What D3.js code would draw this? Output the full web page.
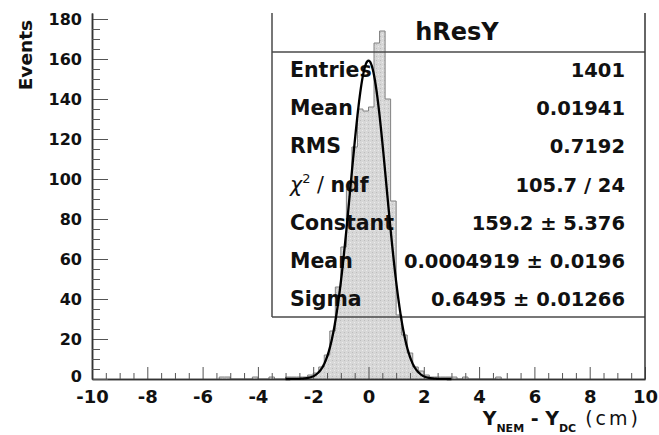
<!DOCTYPE html>
<html>
<head>
<meta charset="utf-8">
<script src="https://cdn.jsdelivr.net/npm/d3@7"></script>
<style>
  html, body { margin: 0; padding: 0; background: #fff; }
  svg { display: block; }
  text { font-family: "DejaVu Sans", sans-serif; font-weight: bold; fill: #111; }
</style>
</head>
<body>
<svg id="chart" width="659" height="435"></svg>
<script>
// Histogram hResY: bins of 0.2 cm, only the non-empty ones are listed
const binWidth = 0.2;
const binLowEdges = [
  -5.4, -5.2, -4.2, -3.6, -3.0,
  -2.8, -2.6, -2.4, -2.2, -2.0, -1.8, -1.6, -1.4, -1.2, -1.0,
  -0.8, -0.6, -0.4, -0.2, 0.0, 0.2, 0.4, 0.6, 0.8, 1.0,
  1.2, 1.4, 1.6, 1.8, 2.0, 2.2, 2.4, 2.6, 2.8, 3.0, 3.4, 4.6
];
const binCounts = [
  1, 1, 1, 1, 1,
  1, 1, 1, 2, 3, 6, 12, 24, 46, 66,
  95, 116, 135, 134, 136, 168, 174, 140, 89, 32,
  22, 13, 6, 4, 2, 1, 1, 1, 1, 1, 1, 1
];

// Gaussian fit result and statistics box content
const fitConstant = 159.2;
const fitMean = 0.0004919;
const fitSigma = 0.6495;
const fitRange = [-3.0, 3.0];
const statsTitle = "hResY";
const statsLabels = ["Entries", "Mean", "RMS", "χ² / ndf", "Constant", "Mean", "Sigma"];
const statsValues = ["1401", "0.01941", "0.7192", "105.7 / 24", "159.2 ± 5.376", "0.0004919 ± 0.0196", "0.6495 ± 0.01266"];

// Axis ticks
const xMajorTicks = [-10, -8, -6, -4, -2, 0, 2, 4, 6, 8, 10];
const yMajorTicks = [0, 20, 40, 60, 80, 100, 120, 140, 160, 180];
const xRange = [-10, 10];
const yMax = 183;

const svg = d3.select("#chart");
const plotL = 92, plotR = 645, plotT = 13, plotB = 379;

const x = d3.scaleLinear().domain(xRange).range([plotL, plotR]);
const y = d3.scaleLinear().domain([0, yMax]).range([plotB, plotT]);

// Light stippled fill for the histogram
const defs = svg.append("defs");
const pat = defs.append("pattern").attr("id", "stipple")
  .attr("width", 4).attr("height", 4).attr("patternUnits", "userSpaceOnUse");
pat.append("rect").attr("width", 4).attr("height", 4).attr("fill", "#d7d7d7");
pat.append("rect").attr("x", 0).attr("y", 0).attr("width", 1).attr("height", 1).attr("fill", "#bdbdbd");
pat.append("rect").attr("x", 2).attr("y", 2).attr("width", 1).attr("height", 1).attr("fill", "#ececec");

// Histogram contour: one closed step path along the bin tops
const bins = binLowEdges.map((lo, i) => ({ lo: lo, hi: lo + binWidth, n: binCounts[i] }));
const contour = [];
bins.forEach((b, i) => {
  const prev = bins[i - 1];
  if (!prev || Math.abs(prev.hi - b.lo) > 1e-9) {
    if (prev) contour.push([x(prev.hi), y(0)]);
    contour.push([x(b.lo), y(0)]);
  }
  contour.push([x(b.lo), y(b.n)]);
  contour.push([x(b.hi), y(b.n)]);
});
contour.push([x(bins[bins.length - 1].hi), y(0)]);

svg.append("path").attr("d", d3.line()(contour) + "Z")
  .attr("fill", "url(#stipple)").attr("stroke", "none");
svg.append("path").attr("d", d3.line()(contour))
  .attr("fill", "none").attr("stroke", "#808080").attr("stroke-width", 1);

// Statistics box
const boxL = 272, boxR = 645, boxT = 13, boxB = 317, sepY = 52;
svg.append("text").attr("x", 457).attr("y", 40)
  .attr("text-anchor", "middle").style("font-size", "24px").text(statsTitle);

const rowY = d3.scaleLinear().domain([0, statsLabels.length - 1]).range([77, 306]);
statsLabels.forEach((lab, i) => {
  const t = svg.append("text").attr("x", 290).attr("y", rowY(i)).style("font-size", "20.5px");
  if (lab.startsWith("χ")) {
    t.append("tspan").style("font-style", "italic").style("font-weight", "normal").text("χ");
    t.append("tspan").attr("dy", -9).style("font-size", "13px").style("font-weight", "normal").text("2");
    t.append("tspan").attr("dy", 9).style("font-weight", "normal").text(" / ");
    t.append("tspan").text("ndf");
  } else {
    t.text(lab);
  }
});
statsValues.forEach((v, i) => {
  svg.append("text").attr("x", 625).attr("y", rowY(i))
    .attr("text-anchor", "end").style("font-size", "19.5px").text(v);
});

const boxStroke = "#4a4a4a";
[[boxL, boxT, boxL, boxB], [boxL, boxB, boxR, boxB], [boxL, sepY, boxR, sepY]].forEach(s => {
  svg.append("line").attr("x1", s[0]).attr("y1", s[1]).attr("x2", s[2]).attr("y2", s[3])
    .attr("stroke", boxStroke).attr("stroke-width", 1.5);
});

// Axes with inward ticks
const xAxis = svg.append("g").attr("transform", `translate(0,${plotB})`)
  .call(d3.axisBottom(x).tickValues(xMajorTicks).tickSize(-12).tickSizeOuter(0).tickPadding(11)
    .tickFormat(d => String(d)));
const xMinor = d3.range(xRange[0], xRange[1] + 0.001, 0.5).filter(v => Math.abs(v % 2) > 1e-9);
svg.append("g").attr("transform", `translate(0,${plotB})`)
  .call(d3.axisBottom(x).tickValues(xMinor).tickSize(-6).tickSizeOuter(0).tickFormat(""));
const yAxis = svg.append("g").attr("transform", `translate(${plotL},0)`)
  .call(d3.axisLeft(y).tickValues(yMajorTicks).tickSize(-16).tickSizeOuter(0).tickPadding(10)
    .tickFormat(d => String(d)));
const yMinor = d3.range(0, yMax, 5).filter(v => v % 20 !== 0);
svg.append("g").attr("transform", `translate(${plotL},0)`)
  .call(d3.axisLeft(y).tickValues(yMinor).tickSize(-8).tickSizeOuter(0).tickFormat(""));

svg.selectAll(".domain").attr("stroke", "#333").attr("stroke-width", 1.5);
svg.selectAll(".tick line").attr("stroke", "#555");
xAxis.selectAll("text").style("font-size", "18px").attr("fill", "#111");
yAxis.selectAll("text").style("font-size", "16px").attr("fill", "#111");
// the zero label sits just above the first x label
yAxis.selectAll(".tick").filter(d => d === 0).select("text").attr("dy", "0.15em");

// Right frame edge
svg.append("line").attr("x1", plotR).attr("x2", plotR).attr("y1", plotT).attr("y2", plotB)
  .attr("stroke", "#333").attr("stroke-width", 1.5);

// Gaussian fit curve
const gauss = v => fitConstant * Math.exp(-0.5 * Math.pow((v - fitMean) / fitSigma, 2));
const curveX = d3.range(fitRange[0], fitRange[1] + 0.0001, 0.02);
svg.append("path")
  .attr("d", d3.line().x(v => x(v)).y(v => y(gauss(v)))(curveX))
  .attr("fill", "none").attr("stroke", "#000").attr("stroke-width", 2.3);

// Axis titles
svg.append("text").attr("transform", "translate(32,20) rotate(-90)")
  .attr("text-anchor", "end").style("font-size", "18.5px").text("Events");

const xt = svg.append("text").attr("x", 641).attr("y", 425).attr("text-anchor", "end")
  .style("font-size", "19px");
xt.append("tspan").text("Y");
xt.append("tspan").attr("dy", 7).style("font-size", "11px").text("NEM");
xt.append("tspan").attr("dy", -7).text(" - Y");
xt.append("tspan").attr("dy", 7).style("font-size", "11px").text("DC");
xt.append("tspan").attr("dy", -7).style("font-weight", "normal")
  .style("letter-spacing", "3px").text(" (cm)");
</script>
</body>
</html>
